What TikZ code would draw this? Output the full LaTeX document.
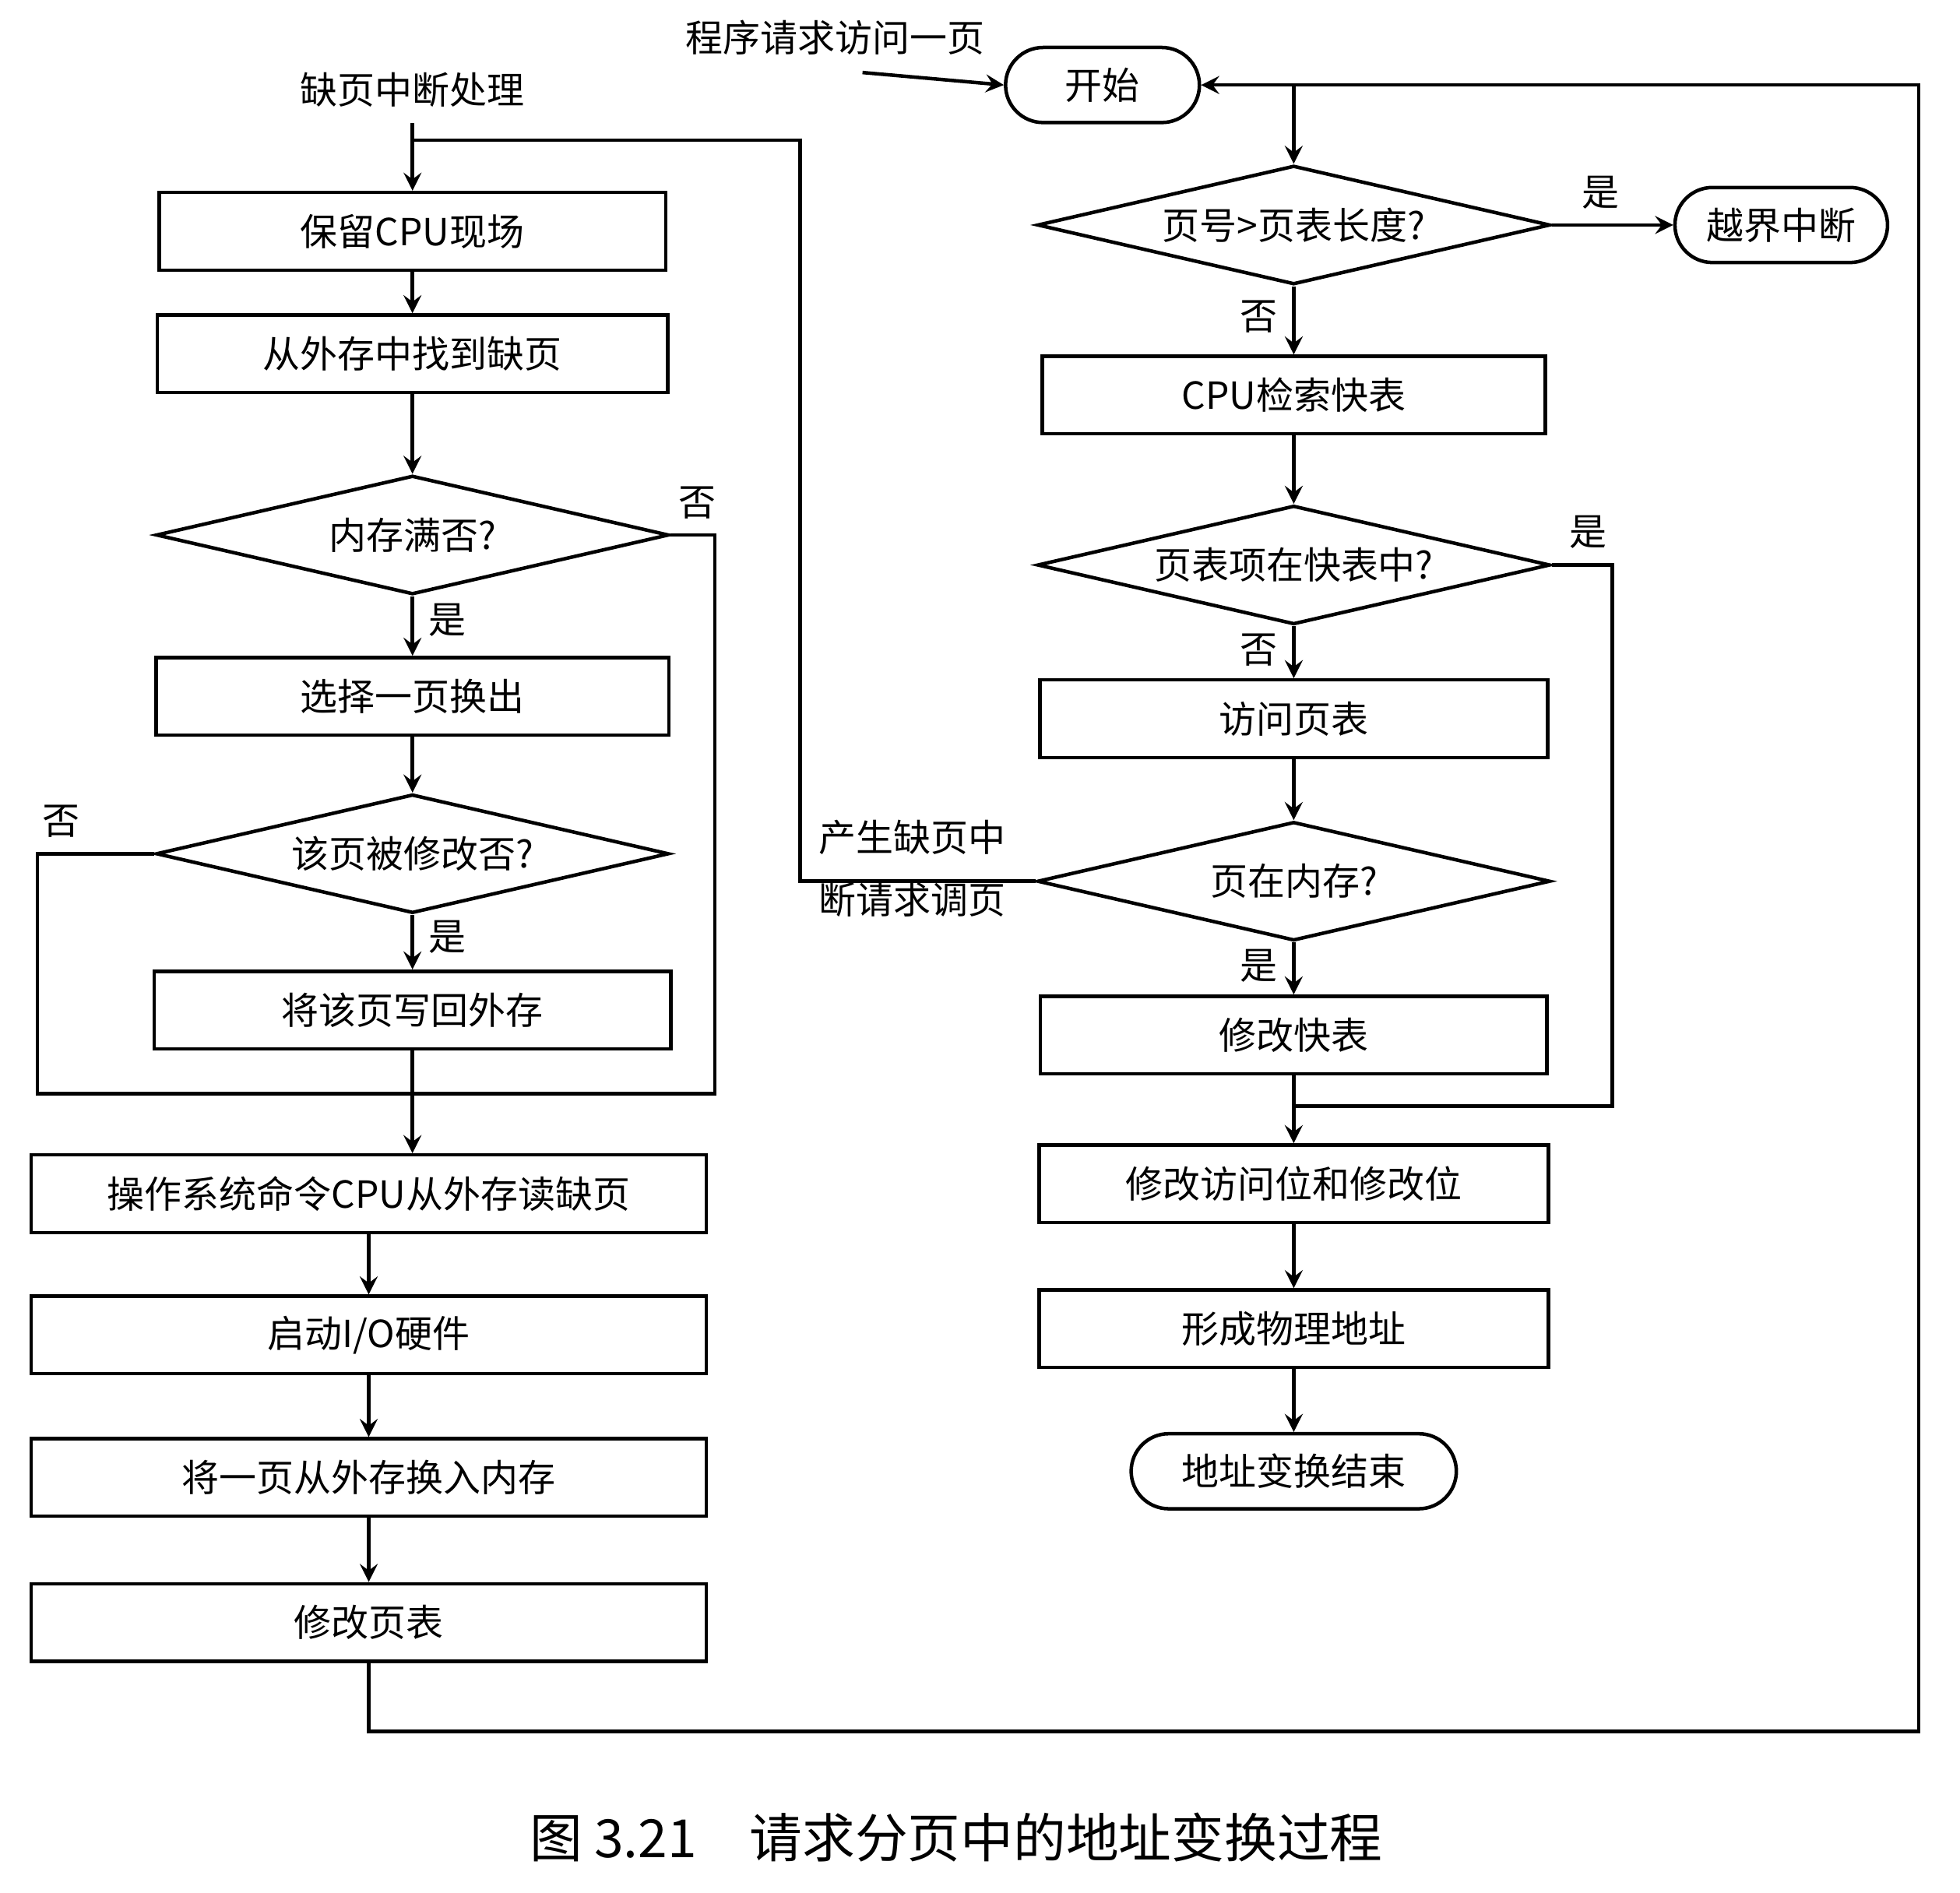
\documentclass[tikz,border=0pt]{standalone}
\usepackage{fontspec}
\setmainfont{Noto Sans CJK SC}
\usetikzlibrary{shapes.geometric,positioning}
\tikzset{
  box/.style={draw, thick, minimum height=0.62cm, inner sep=2pt},
  cond/.style={draw, thick, shape=diamond, aspect=4.3, inner sep=0pt, minimum width=4.1cm, minimum height=0.95cm},
  term/.style={draw, thick, rounded corners=0.3cm, minimum height=0.6cm},
  flow/.style={->, thick, >=stealth},
  line/.style={thick}
}
\begin{document}
\begin{tikzpicture}[x=0.01cm, y=-0.01cm, font=\fontsize{8.5}{10}\selectfont]
\useasboundingbox (0,0) rectangle (1568,1514);
% left column
\node (trap) at (330,72) {缺页中断处理};
\node (save) [box, minimum width=4.05cm] at (330,185) {保留CPU现场};
\node (find) [box, minimum width=4.08cm] at (330,283) {从外存中找到缺页};
\node (full) [cond] at (330,428) {内存满否?};
\node (pick) [box, minimum width=4.1cm] at (330,557) {选择一页换出};
\node (dirty) [cond] at (330,683) {该页被修改否?};
\node (wback) [box, minimum width=4.13cm] at (330,808) {将该页写回外存};
\coordinate (joinL) at (330,875);
\node (oscmd) [box, minimum width=5.4cm] at (295,955) {操作系统命令CPU从外存读缺页};
\node (io) [box, minimum width=5.4cm] at (295,1068) {启动I/O硬件};
\node (swapin) [box, minimum width=5.4cm] at (295,1182) {将一页从外存换入内存};
\node (updpt) [box, minimum width=5.4cm] at (295,1298) {修改页表};
% right column
\node (req) at (668,30) {程序请求访问一页};
\node (start) [term, minimum width=1.55cm] at (882,68) {开始};
\node (range) [cond] at (1035,180) {页号>页表长度?};
\node (oob) [term, minimum width=1.7cm] at (1425,180) {越界中断};
\node (tlb) [box, minimum width=4.02cm] at (1035,316) {CPU检索快表};
\node (intlb) [cond] at (1035,452) {页表项在快表中?};
\node (pt) [box, minimum width=4.06cm] at (1035,575) {访问页表};
\node (inmem) [cond] at (1035,705) {页在内存?};
\node (updtlb) [box, minimum width=4.05cm] at (1035,828) {修改快表};
\coordinate (joinR) at (1035,885);
\node (bits) [box, minimum width=4.07cm] at (1035,947) {修改访问位和修改位};
\node (phys) [box, minimum width=4.07cm] at (1035,1063) {形成物理地址};
\node (done) [term, minimum width=2.6cm] at (1035,1177) {地址变换结束};
\node (fault1) at (730,670) {产生缺页中};
\node (fault2) at (730,720) {断请求调页};
\node (cap) at (765,1470) {\fontsize{12}{14}\selectfont 图 3.21\quad 请求分页中的地址变换过程};
\coordinate (topR) at (range.north |- start.east);
% left flows
\draw[flow] (trap) -- (save);
\draw[flow] (save) -- (find);
\draw[flow] (find) -- (full);
\draw[flow] (full) -- node[right, pos=0.4] {是} (pick);
\draw[flow] (pick) -- (dirty);
\draw[flow] (dirty) -- node[right, pos=0.4] {是} (wback);
\draw[line] (full.east) -| node[pos=0.3, above] {否} (572,875) -- (joinL);
\draw[line] (dirty.west) -| node[pos=0.4, above] {否} (30,875) -- (joinL);
\draw[line] (wback) -- (joinL);
\draw[flow] (joinL) -- (joinL |- oscmd.north);
\draw[flow] (oscmd) -- (io);
\draw[flow] (io) -- (swapin);
\draw[flow] (swapin) -- (updpt);
\draw[flow] (updpt.south) |- (1535,1385) |- (start.east);
% right flows
\draw[flow] (690,58) -- (start.west);
\draw[flow] (topR) -- (range);
\draw[flow] (range) -- node[above, pos=0.4] {是} (oob);
\draw[flow] (range) -- node[left, pos=0.45] {否} (tlb);
\draw[flow] (tlb) -- (intlb);
\draw[flow] (intlb) -- node[left, pos=0.45] {否} (pt);
\draw[line] (intlb.east) -| node[pos=0.3, above] {是} (1290,885) -- (joinR);
\draw[flow] (pt) -- (inmem);
\draw[flow] (inmem) -- node[left, pos=0.45] {是} (updtlb);
\draw[line] (updtlb) -- (joinR);
\draw[flow] (joinR) -- (bits);
\draw[flow] (bits) -- (phys);
\draw[flow] (phys) -- (done);
\draw[line] (inmem.west) -| (640,112) -| (trap.south);
\end{tikzpicture}
\end{document}
